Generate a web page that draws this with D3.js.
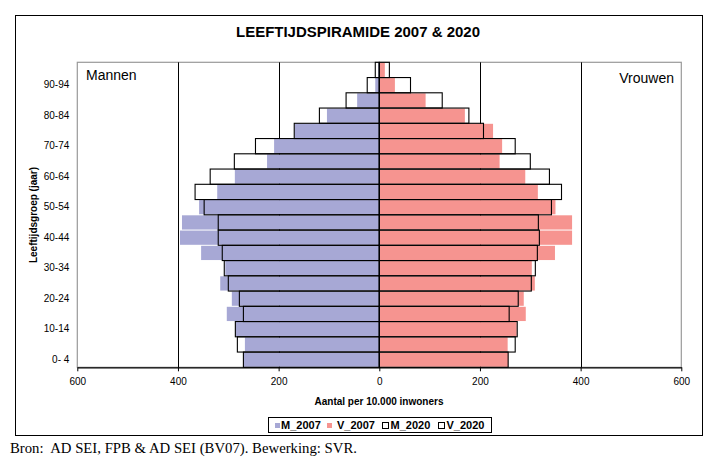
<!DOCTYPE html>
<html><head><meta charset="utf-8">
<script src="https://cdn.jsdelivr.net/npm/d3@7"></script>
<style>body{margin:0;background:#fff}svg{display:block}</style>
</head><body>
<script>
const ageGroups = ["0- 4","5- 9","10-14","15-19","20-24","25-29","30-34","35-39","40-44","45-49","50-54","55-59","60-64","65-69","70-74","75-79","80-84","85-89","90-94","95+"];
const M_2007 = [270,267,286,303,293,316,306,354,396,392,358,322,287,223,209,168,104,44,8,2];
const V_2007 = [256,255,273,291,287,309,303,349,383,383,350,315,290,239,244,226,170,92,31,11];
const M_2020 = [270,282,286,270,278,300,308,312,320,320,348,366,336,288,246,169,119,66,24,8];
const V_2020 = [256,270,274,258,276,302,310,314,318,316,342,362,338,300,270,207,178,125,62,20];
const xTicks = [-600,-400,-200,0,200,400,600];
const gridValues = [-400,-200,200,400];
const labelGroups = ["0- 4","10-14","20-24","30-34","40-44","50-54","60-64","70-74","80-84","90-94"];
const legendItems = ["M_2007","V_2007","M_2020","V_2020"];

const W=704,H=462;
const SANS="Liberation Sans, Arial, sans-serif";
const svg=d3.select("body").append("svg").attr("width",W).attr("height",H).style("font-family",SANS);
const pl=77.3, pr=681.3, pt=62.3, pb=367.3;
const x=d3.scaleLinear().domain([-600,600]).range([pl,pr]);
const y=d3.scaleBand().domain(ageGroups.slice().reverse()).range([pt,pb]).padding(0);
const cM="#A7A8D5", cV="#F69490";

// outer border
svg.append("rect").attr("x",15.5).attr("y",15.5).attr("width",687).attr("height",420).attr("fill","#fff").attr("stroke","#000").attr("stroke-width",1);

svg.append("text").attr("x",358).attr("y",37).attr("text-anchor","middle")
  .attr("font-size",14.5).attr("font-weight","bold").attr("textLength",244).attr("lengthAdjust","spacingAndGlyphs")
  .text("LEEFTIJDSPIRAMIDE 2007 & 2020");

// plot border
svg.append("rect").attr("x",pl).attr("y",pt).attr("width",pr-pl).attr("height",pb-pt)
  .attr("fill","#fff").attr("stroke","#999").attr("stroke-width",1.2);

// gridlines
svg.append("g").selectAll("line").data(gridValues).join("line")
  .attr("x1",d=>Math.round(x(d))+0.5).attr("x2",d=>Math.round(x(d))+0.5).attr("y1",pt).attr("y2",pb)
  .attr("stroke","#000").attr("stroke-width",1);

const idx=d3.range(ageGroups.length);
// 2007 filled bars
svg.append("g").selectAll("rect").data(idx).join("rect")
  .attr("x",i=>x(-M_2007[i])).attr("width",i=>x(0)-x(-M_2007[i]))
  .attr("y",i=>y(ageGroups[i])+0.5).attr("height",y.bandwidth()-1).attr("fill",cM);
svg.append("g").selectAll("rect").data(idx).join("rect")
  .attr("x",x(0)).attr("width",i=>x(V_2007[i])-x(0))
  .attr("y",i=>y(ageGroups[i])+0.5).attr("height",y.bandwidth()-1).attr("fill",cV);
// 2020 outlined bars
svg.append("g").selectAll("rect").data(idx).join("rect")
  .attr("x",i=>x(-M_2020[i])).attr("width",i=>x(0)-x(-M_2020[i]))
  .attr("y",i=>y(ageGroups[i])).attr("height",y.bandwidth()).attr("fill","none").attr("stroke","#000").attr("stroke-width",1.1);
svg.append("g").selectAll("rect").data(idx).join("rect")
  .attr("x",x(0)).attr("width",i=>x(V_2020[i])-x(0))
  .attr("y",i=>y(ageGroups[i])).attr("height",y.bandwidth()).attr("fill","none").attr("stroke","#000").attr("stroke-width",1.1);

// zero axis
svg.append("line").attr("x1",x(0)).attr("x2",x(0)).attr("y1",pt).attr("y2",pb).attr("stroke","#000").attr("stroke-width",1.1);

// x axis
const xa=svg.append("g").attr("transform",`translate(0,${pb})`)
  .call(d3.axisBottom(x).tickValues(xTicks).tickFormat(d=>Math.abs(d)).tickSize(4).tickSizeOuter(0));
xa.select(".domain").attr("stroke","#000").attr("stroke-width",1.2);
xa.selectAll("line").attr("stroke","#000");
xa.selectAll("text").attr("font-size",10).attr("dy","1.05em").style("font-family",SANS);

// y axis labels
const ya=svg.append("g").attr("transform",`translate(${pl},0)`)
  .call(d3.axisLeft(y).tickValues(labelGroups).tickSize(0).tickPadding(8));
ya.select(".domain").remove();
ya.selectAll("text").attr("font-size",10).style("font-family",SANS);

svg.append("text").attr("x",379).attr("y",405).attr("text-anchor","middle").attr("font-size",10).attr("font-weight","bold").text("Aantal per 10.000 inwoners");
svg.append("text").attr("transform","translate(37,215) rotate(-90)").attr("text-anchor","middle").attr("font-size",10).attr("font-weight","bold").text("Leeftijdsgroep (jaar)");

svg.append("text").attr("x",86).attr("y",80).attr("font-size",14).text("Mannen");
svg.append("text").attr("x",674).attr("y",83).attr("text-anchor","end").attr("font-size",14).text("Vrouwen");

// legend
const lg=svg.append("g");
lg.append("rect").attr("x",268.5).attr("y",417.5).attr("width",223).attr("height",15).attr("fill","#fff").attr("stroke","#000");
const sx=[275,327,382.5,438.5];
const tx=[281,337,390.5,446.5];
const fills=[cM,cV,"#fff","#fff"];
legendItems.forEach((t,i)=>{
  if(i<2) lg.append("rect").attr("x",sx[i]).attr("y",423).attr("width",5).attr("height",5).attr("fill",fills[i]);
  else lg.append("rect").attr("x",sx[i]).attr("y",422.5).attr("width",6).attr("height",6).attr("fill","#fff").attr("stroke","#000");
  lg.append("text").attr("x",tx[i]).attr("y",429).attr("font-size",11).attr("font-weight","bold").text(t);
});

svg.append("text").attr("x",10).attr("y",453).style("font-family","Liberation Serif, Times New Roman, serif").attr("font-size",14)
  .attr("textLength",347).attr("lengthAdjust","spacingAndGlyphs")
  .style("white-space","pre").text("Bron:  AD SEI, FPB & AD SEI (BV07). Bewerking: SVR.");
</script>
</body></html>
